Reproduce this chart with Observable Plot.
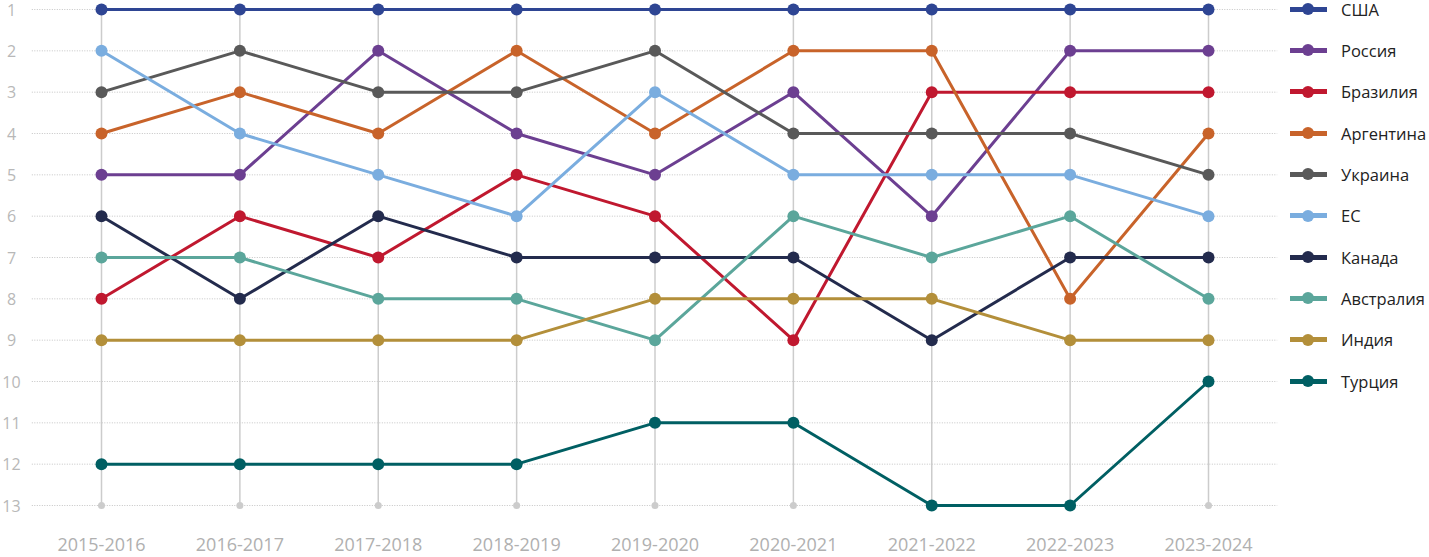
<!DOCTYPE html>
<html>
<head>
<meta charset="utf-8">
<script src="https://cdn.jsdelivr.net/npm/d3@7"></script>
<script src="https://cdn.jsdelivr.net/npm/@observablehq/plot@0.6"></script>
<style>
  html, body { margin: 0; padding: 0; background: #fff; }
  #wrap { position: relative; width: 1429px; height: 557px; font-family: "Open Sans", sans-serif; }
  #wrap svg { overflow: visible; }
  .leg { position: absolute; left: 1290px; height: 14px; display: flex; align-items: center; }
  .leg .ln { position: relative; width: 37px; height: 5px; }
  .leg .dt { position: absolute; left: 12px; top: -3.5px; width: 12px; height: 12px; border-radius: 50%; }
  .leg .lb { margin-left: 14px; font-size: 16.5px; color: #222; white-space: nowrap; }
</style>
</head>
<body>
<div id="wrap"></div>
<script>
const years = ["2015-2016","2016-2017","2017-2018","2018-2019","2019-2020","2020-2021","2021-2022","2022-2023","2023-2024"];
const countries = ["США","Россия","Бразилия","Аргентина","Украина","ЕС","Канада","Австралия","Индия","Турция"];
const colors = ["#2E4593","#6C3F91","#C0182F","#C8632A","#595959","#7AADDF","#232B4D","#5BA69B","#B38F3A","#005F63"];
const usa       = [1,1,1,1,1,1,1,1,1];
const russia    = [5,5,2,4,5,3,6,2,2];
const brazil    = [8,6,7,5,6,9,3,3,3];
const argentina = [4,3,4,2,4,2,2,8,4];
const ukraine   = [3,2,3,3,2,4,4,4,5];
const eu        = [2,4,5,6,3,5,5,5,6];
const canada    = [6,8,6,7,7,7,9,7,7];
const australia = [7,7,8,8,9,6,7,6,8];
const india     = [9,9,9,9,8,8,8,9,9];
const turkey    = [12,12,12,12,11,11,13,13,10];
const ranks = [1,2,3,4,5,6,7,8,9,10,11,12,13];

const series = [usa, russia, brazil, argentina, ukraine, eu, canada, australia, india, turkey];
const data = [];
series.forEach((vals, k) => vals.forEach((v, i) => data.push({country: countries[k], i, rank: v})));
const idx = years.map((_, i) => i);
const minRank = d3.min(ranks), maxRank = d3.max(ranks);

const plot = Plot.plot({
  width: 1429,
  height: 557,
  marginLeft: 101,
  marginRight: 221,
  marginTop: 9,
  marginBottom: 52,
  style: { fontFamily: "Open Sans, sans-serif", background: "#fff", overflow: "visible" },
  x: { type: "linear", domain: [0, years.length - 1] },
  y: { domain: [maxRank, minRank] },
  color: { domain: countries, range: colors },
  marks: [
    Plot.ruleY(ranks, { y: d => d, x1: -0.5, x2: years.length - 0.5, stroke: "#c4c4c4", strokeWidth: 1, strokeDasharray: "1,1.5" }),
    Plot.ruleX(idx, { x: d => d, y1: minRank, y2: maxRank, stroke: "#cccccc", strokeWidth: 1.5 }),
    Plot.dot(idx, { x: d => d, y: maxRank, r: 3.5, fill: "#cccccc", stroke: null }),
    Plot.line(data, { x: "i", y: "rank", z: "country", stroke: "country", strokeWidth: 3 }),
    Plot.dot(data, { x: "i", y: "rank", fill: "country", r: 6 }),
    Plot.axisY(ranks, { tickSize: 0, tickPadding: 90, textAnchor: "middle", fontSize: 16, dy: 1, fill: "#b8b8b8", label: null }),
    Plot.axisX(idx, { tickSize: 0, tickPadding: 33, fontSize: 18, fill: "#b0b0b0", label: null, tickFormat: i => years[i] })
  ]
});

const wrap = document.getElementById("wrap");
wrap.appendChild(plot);
const yScale = plot.scale("y");
countries.forEach((c, k) => {
  const row = document.createElement("div");
  row.className = "leg";
  row.style.top = (yScale.apply(ranks[k]) - 7) + "px";
  row.innerHTML = `<div class="ln" style="background:${colors[k]}"><div class="dt" style="background:${colors[k]}"></div></div><div class="lb">${c}</div>`;
  wrap.appendChild(row);
});
</script>
</body>
</html>
